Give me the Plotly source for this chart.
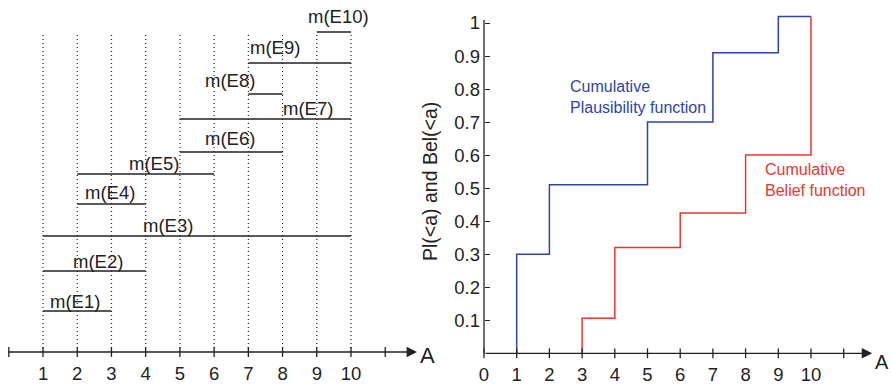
import plotly.graph_objects as go

# ---------------- data ----------------
focal_names = ["m(E1)", "m(E2)", "m(E3)", "m(E4)", "m(E5)",
               "m(E6)", "m(E7)", "m(E8)", "m(E9)", "m(E10)"]
focal_lo = [1, 1, 1, 2, 2, 5, 5, 7, 7, 9]
focal_hi = [3, 4, 10, 4, 6, 8, 10, 8, 10, 10]
focal_row = [41, 81, 116, 148, 178, 200, 233, 258, 289, 320]   # stacking height of each focal set

left_ticks = [1, 2, 3, 4, 5, 6, 7, 8, 9, 10]
right_xticks = [0, 1, 2, 3, 4, 5, 6, 7, 8, 9, 10]
right_yticks = [0.1, 0.2, 0.3, 0.4, 0.5, 0.6, 0.7, 0.8, 0.9, 1.0]
right_yticktext = ["0.1", "0.2", "0.3", "0.4", "0.5", "0.6", "0.7", "0.8", "0.9", "1"]

pl_x = [1, 1, 2, 5, 7, 9, 10]
pl_y = [0, 0.3, 0.51, 0.7, 0.91, 1.02, 1.02]
bel_x = [3, 3, 4, 6, 8, 10]
bel_y = [0, 0.106, 0.32, 0.425, 0.6, 1.02]

# ---------------- style / layout ----------------
FONT = "Liberation Sans, Arial, sans-serif"
INK = "#222222"
BLUE = "#2f44a8"
RED = "#e8372e"
W, H = 892, 388
split = 440 / W

# left panel pixel mapping
L_x0, L_unit = 8.8, 34.22
L_axis = 352
# right panel pixel mapping
R_x0, R_unit = 484, 32.7
R_y0, R_unit_y = 353.3, 330.3

label_x = [1.93, 2.61, 4.64, 2.96, 4.24, 6.46, 8.74, 6.46, 7.78, 9.62]
label_dy = [10, 10, 11, 12, 11, 14, 11, 14, 16, 16]

fig = go.Figure()

# dotted verticals
for v in left_ticks:
    fig.add_trace(go.Scatter(x=[v, v], y=[0, 317], mode="lines",
                             line=dict(color=INK, width=1.2, dash="1px,3px"),
                             xaxis="x", yaxis="y", hoverinfo="skip", showlegend=False))
# focal set segments
for lo, hi, r in zip(focal_lo, focal_hi, focal_row):
    fig.add_trace(go.Scatter(x=[lo, hi], y=[r, r], mode="lines",
                             line=dict(color=INK, width=1.3),
                             xaxis="x", yaxis="y", hoverinfo="skip", showlegend=False))
# left tick marks (crossing)
fig.add_trace(go.Scatter(x=list(range(0, 12)), y=[0] * 12, mode="markers",
                         marker=dict(symbol="line-ns", size=7, line=dict(color=INK, width=1.3)),
                         xaxis="x", yaxis="y", hoverinfo="skip", showlegend=False, cliponaxis=False))

# right panel step functions
fig.add_trace(go.Scatter(x=pl_x, y=pl_y, mode="lines", line=dict(color=BLUE, width=1.5, shape="hv"),
                         xaxis="x2", yaxis="y2", hoverinfo="skip", showlegend=False))
fig.add_trace(go.Scatter(x=bel_x, y=bel_y, mode="lines", line=dict(color=RED, width=1.5, shape="hv"),
                         xaxis="x2", yaxis="y2", hoverinfo="skip", showlegend=False))
# right x tick marks (crossing)
fig.add_trace(go.Scatter(x=list(range(0, 12)), y=[0] * 12, mode="markers",
                         marker=dict(symbol="line-ns", size=7, line=dict(color=INK, width=1.3)),
                         xaxis="x2", yaxis="y2", hoverinfo="skip", showlegend=False, cliponaxis=False))
# right y axis line
fig.add_trace(go.Scatter(x=[0, 0], y=[0, 1.009], mode="lines", line=dict(color=INK, width=1.3),
                         xaxis="x2", yaxis="y2", hoverinfo="skip", showlegend=False))

annotations = []
# axis arrows
annotations.append(dict(x=11.93, y=0, ax=-0.06, ay=0, xref="x", yref="y", axref="x", ayref="y",
                        showarrow=True, arrowhead=2, arrowsize=1.6, arrowwidth=1.3, arrowcolor=INK, text=""))
annotations.append(dict(x=11.87, y=0, ax=0, ay=0, xref="x2", yref="y2", axref="x2", ayref="y2",
                        showarrow=True, arrowhead=2, arrowsize=1.6, arrowwidth=1.3, arrowcolor=INK, text=""))
annotations.append(dict(x=(427 - L_x0) / L_unit, y=L_axis - 355, xref="x", yref="y", text="A",
                        showarrow=False, font=dict(family=FONT, size=22, color=INK)))
annotations.append(dict(x=(882 - R_x0) / R_unit, y=(R_y0 - 362) / R_unit_y, xref="x2", yref="y2", text="A",
                        showarrow=False, font=dict(family=FONT, size=20, color=INK)))
# focal set labels
for name, lx, r, dy in zip(focal_names, label_x, focal_row, label_dy):
    annotations.append(dict(x=lx, y=r, xref="x", yref="y", text=name, showarrow=False,
                            yshift=dy, font=dict(family=FONT, size=18.5, color=INK)))
# function labels
annotations.append(dict(x=(568 - R_x0) / R_unit, y=(R_y0 - 97) / R_unit_y, xref="x2", yref="y2",
                        text="Cumulative<br>Plausibility function", align="left", xanchor="left",
                        showarrow=False, font=dict(family=FONT, size=16, color=BLUE)))
annotations.append(dict(x=(763 - R_x0) / R_unit, y=(R_y0 - 179.5) / R_unit_y, xref="x2", yref="y2",
                        text="Cumulative<br>Belief function", align="left", xanchor="left",
                        showarrow=False, font=dict(family=FONT, size=16, color=RED)))
# y axis title
annotations.append(dict(x=430 / W, y=1 - 182 / H, xref="paper", yref="paper", text="Pl(&lt;a) and Bel(&lt;a)",
                        textangle=-90, showarrow=False, font=dict(family=FONT, size=19.5, color=INK)))

fig.update_layout(
    width=W, height=H, margin=dict(l=0, r=0, t=0, b=0),
    paper_bgcolor="white", plot_bgcolor="rgba(0,0,0,0)",
    font=dict(family=FONT, size=18, color=INK),
    xaxis=dict(domain=[0, split], range=[-L_x0 / L_unit, (440 - L_x0) / L_unit],
               anchor="free", position=(H - L_axis) / H, showgrid=False, zeroline=False, showline=False,
               tickvals=left_ticks, ticktext=[str(v) for v in left_ticks], ticks="", ticklabelstandoff=8,
               tickfont=dict(family=FONT, size=18.5, color=INK)),
    yaxis=dict(domain=[0, 1], range=[L_axis - H, L_axis], visible=False, anchor="x"),
    xaxis2=dict(domain=[split, 1], range=[(440 - R_x0) / R_unit, (W - R_x0) / R_unit],
                anchor="free", position=(H - R_y0) / H, showgrid=False, zeroline=False, showline=False,
                tickvals=right_xticks, ticktext=[str(v) for v in right_xticks], ticks="", ticklabelstandoff=8,
                tickfont=dict(family=FONT, size=18.5, color=INK)),
    yaxis2=dict(domain=[0, 1], range=[(R_y0 - H) / R_unit_y, R_y0 / R_unit_y],
                anchor="free", position=R_x0 / W, showgrid=False, zeroline=False, showline=False,
                tickvals=right_yticks, ticktext=right_yticktext, ticks="inside", ticklen=5, tickwidth=1.3,
                tickcolor=INK, ticklabelstandoff=4, tickfont=dict(family=FONT, size=18.5, color=INK)),
    annotations=annotations,
)

fig.write_html("out.html")
